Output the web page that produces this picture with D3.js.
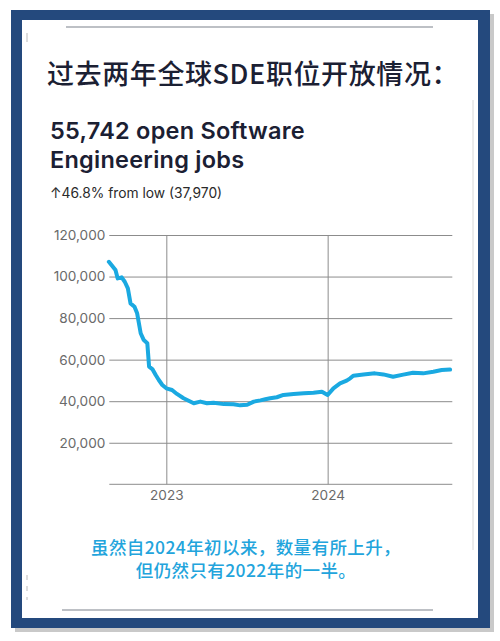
<!DOCTYPE html>
<html>
<head>
<meta charset="utf-8">
<script src="https://cdn.jsdelivr.net/npm/d3@7"></script>
<style>
  html, body { margin: 0; padding: 0; background: #fff; }
  svg { display: block; }
</style>
</head>
<body>
<div id="chart"></div>
<script>
// Job openings (date, open roles)
const dates = [
  '2022-08-24','2022-09-08','2022-09-13','2022-09-22','2022-09-29','2022-10-06',
  '2022-10-12','2022-10-21','2022-10-27','2022-11-04','2022-11-11','2022-11-19',
  '2022-11-23','2022-12-01','2022-12-08','2022-12-15','2022-12-23','2023-01-01',
  '2023-01-14','2023-01-25','2023-02-09','2023-03-04','2023-03-19','2023-04-03',
  '2023-04-18','2023-05-11','2023-06-02','2023-06-17','2023-07-03','2023-07-18',
  '2023-08-02','2023-08-13','2023-08-24','2023-09-08','2023-09-23','2023-10-16',
  '2023-11-08','2023-11-30','2023-12-19','2024-01-01','2024-01-14','2024-01-29',
  '2024-02-13','2024-02-21','2024-02-28','2024-03-22','2024-04-17','2024-05-06',
  '2024-05-28','2024-06-20','2024-07-12','2024-08-04','2024-08-27','2024-09-15',
  '2024-10-04'
];
const jobs = [
  107100, 103100, 99100, 99600, 97500, 94300,
  87100, 85500, 82300, 72700, 69400, 67900,
  56600, 55300, 52600, 50200, 47800, 46200,
  45400, 43500, 41400, 39000, 39800, 39000,
  39300, 38600, 38500, 38000, 38300, 39800,
  40400, 40900, 41400, 41900, 43000, 43500,
  43800, 44100, 44600, 43000, 46200, 48600,
  49900, 51000, 52300, 52900, 53400, 52900,
  51800, 52800, 53700, 53400, 54200, 55000,
  55200
];
const yTicks = [20000, 40000, 60000, 80000, 100000, 120000];
const xTicks = ['2023-01-01', '2024-01-01'];
const xDomain = ['2022-08-25', '2024-10-09'];

const title = '过去两年全球SDE职位开放情况：';
const headline = ['55,742 open Software', 'Engineering jobs'];
const subline = '↑46.8% from low (37,970)';
const caption = ['虽然自2024年初以来，数量有所上升，', '但仍然只有2022年的一半。'];

const W = 500, H = 641;
const parse = d3.timeParse('%Y-%m-%d');
const data = dates.map((d, i) => ({ date: parse(d), value: jobs[i] }));

const svg = d3.select('#chart').append('svg')
  .attr('width', W).attr('height', H);

// Frame: shadow, blue border, white card
svg.append('rect').attr('x', 15).attr('y', 14).attr('width', 479).attr('height', 618).attr('fill', '#c9c9c9');
svg.append('rect').attr('x', 11).attr('y', 10).attr('width', 479).attr('height', 618).attr('fill', '#24497d');
svg.append('rect').attr('x', 22).attr('y', 20).attr('width', 456).attr('height', 598).attr('fill', '#fff');

// faint card edges from the original screenshot
const edge = svg.append('g').attr('stroke', '#7d828c').attr('fill', 'none');
edge.append('line').attr('x1', 66).attr('x2', 433).attr('y1', 27).attr('y2', 27).attr('stroke-width', 1.2);
edge.append('line').attr('x1', 62).attr('x2', 433).attr('y1', 610).attr('y2', 610).attr('stroke-width', 1.2);
edge.append('line').attr('x1', 473).attr('x2', 473).attr('y1', 100).attr('y2', 550).attr('stroke', '#d8d8d8');
edge.append('line').attr('x1', 27).attr('x2', 27).attr('y1', 33).attr('y2', 42).attr('stroke', '#bbb');
edge.append('line').attr('x1', 27).attr('x2', 27).attr('y1', 575).attr('y2', 600).attr('stroke', '#bbb').attr('stroke-dasharray', '5,6');

// Title
svg.append('text')
  .attr('x', 47).attr('y', 84)
  .attr('font-family', '"Noto Sans CJK SC", sans-serif')
  .attr('font-size', 27).attr('font-weight', 500)
  .attr('letter-spacing', 0.6)
  .attr('fill', '#1b2033')
  .text(title);

// Headline
svg.append('g').selectAll('text')
  .data(headline)
  .join('text')
  .attr('x', 50).attr('y', (d, i) => 139 + i * 29)
  .attr('font-family', 'Inter, sans-serif')
  .attr('font-size', 23.5).attr('font-weight', 600)
  .attr('letter-spacing', 0.25)
  .attr('fill', '#1b2033')
  .text(d => d);

svg.append('text')
  .attr('x', 50).attr('y', 198)
  .attr('font-family', 'Inter, sans-serif')
  .attr('font-size', 13.8)
  .attr('fill', '#2a2a2a')
  .text(subline);

// Chart
const margin = { left: 109.3, right: 452.3, top: 235, bottom: 484.3 };

const x = d3.scaleTime()
  .domain(xDomain.map(parse))
  .range([margin.left, margin.right]);

const y = d3.scaleLinear()
  .domain([0, 120000])
  .range([margin.bottom, margin.top]);

const grid = svg.append('g');

// horizontal grid + y labels
const yAxis = d3.axisLeft(y)
  .tickValues(yTicks)
  .tickSize(-(margin.right - margin.left))
  .tickPadding(4)
  .tickFormat(d3.format(','));

grid.append('g')
  .attr('transform', `translate(${margin.left},0)`)
  .call(yAxis)
  .call(g => g.select('.domain').remove())
  .call(g => g.selectAll('.tick line').attr('stroke', '#8c8c8c').attr('stroke-width', 1))
  .call(g => g.selectAll('.tick text')
    .attr('font-family', 'Inter, sans-serif')
    .attr('font-size', 13.6)
    .attr('fill', '#6a6a6a'));

// baseline
grid.append('line')
  .attr('x1', margin.left).attr('x2', margin.right)
  .attr('y1', y(0)).attr('y2', y(0))
  .attr('stroke', '#8c8c8c');

// vertical year lines + labels
const xAxis = d3.axisBottom(x)
  .tickValues(xTicks.map(parse))
  .tickSize(-(margin.bottom - margin.top))
  .tickPadding(6)
  .tickFormat(d3.timeFormat('%Y'));

grid.append('g')
  .attr('transform', `translate(0,${margin.bottom})`)
  .call(xAxis)
  .call(g => g.select('.domain').remove())
  .call(g => g.selectAll('.tick line').attr('stroke', '#8c8c8c').attr('stroke-width', 1))
  .call(g => g.selectAll('.tick text')
    .attr('font-family', 'Inter, sans-serif')
    .attr('font-size', 13.6)
    .attr('fill', '#6a6a6a'));

// the series
const line = d3.line()
  .x(d => x(d.date))
  .y(d => y(d.value));

svg.append('path')
  .datum(data)
  .attr('d', line)
  .attr('fill', 'none')
  .attr('stroke', '#1aa9e1')
  .attr('stroke-width', 4)
  .attr('stroke-linejoin', 'round')
  .attr('stroke-linecap', 'round');

// Caption
svg.append('g').selectAll('text')
  .data(caption)
  .join('text')
  .attr('x', 246).attr('y', (d, i) => 554 + i * 23)
  .attr('text-anchor', 'middle')
  .attr('font-family', '"Noto Sans CJK SC", sans-serif')
  .attr('font-size', 17.5).attr('font-weight', 500)
  .attr('letter-spacing', 0.4)
  .attr('fill', '#22a4dc')
  .text(d => d);
</script>
</body>
</html>
